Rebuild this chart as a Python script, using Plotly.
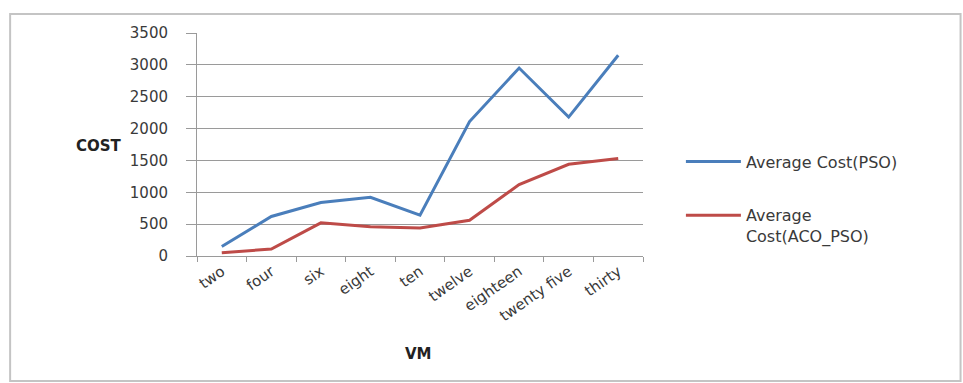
import plotly.graph_objects as go

# Number of virtual machines per run
vm_labels = ["two", "four", "six", "eight", "ten", "twelve", "eighteen", "twenty five", "thirty"]

# Average cost per algorithm
cost_pso = [150, 620, 840, 920, 640, 2110, 2950, 2180, 3150]
cost_aco_pso = [50, 110, 520, 460, 440, 560, 1120, 1440, 1530]

series_names = ["Average Cost(PSO)", "Average<br>Cost(ACO_PSO)"]
y_ticks = [0, 500, 1000, 1500, 2000, 2500, 3000, 3500]

FONT = "DejaVu Sans"
GRID = "#9a9a9a"
TEXT = "#3a3a3a"

fig = go.Figure()
fig.add_trace(go.Scatter(x=vm_labels, y=cost_pso, mode="lines", name=series_names[0],
                         legendgroup="pso", line=dict(color="#4a7ebb", width=3)))
fig.add_trace(go.Scatter(x=vm_labels, y=cost_aco_pso, mode="lines", name=series_names[1],
                         legendgroup="aco", line=dict(color="#be4b48", width=3)))

fig.update_layout(
    width=963, height=383,
    margin=dict(l=197, r=320, t=33, b=127),
    paper_bgcolor="white", plot_bgcolor="white",
    font=dict(family=FONT, size=15, color=TEXT),
    showlegend=True,
    legend=dict(x=1.085, y=0.50, xanchor="left", yanchor="top",
                font=dict(family=FONT, size=16, color=TEXT),
                valign="top", itemwidth=55, tracegroupgap=30,
                bgcolor="rgba(0,0,0,0)"),
    xaxis=dict(
        type="category", tickangle=-35, tickson="boundaries",
        ticks="outside", ticklen=5, tickcolor=GRID,
        showline=True, linecolor=GRID, linewidth=1,
        showgrid=False, tickfont=dict(family=FONT, size=15, color=TEXT),
        range=[-0.5, len(vm_labels) - 0.5],
    ),
    yaxis=dict(
        range=[0, 3500], tickvals=y_ticks, ticktext=[str(v) for v in y_ticks],
        ticks="outside", ticklen=10, tickcolor=GRID,
        showline=True, linecolor=GRID, linewidth=1,
        showgrid=True, gridcolor=GRID, gridwidth=1,
        zeroline=False, ticklabelstandoff=15,
        tickfont=dict(family=FONT, size=15, color=TEXT),
    ),
    annotations=[
        dict(text="<b>COST</b>", xref="paper", yref="paper", x=-0.276, y=0.493,
             showarrow=False, font=dict(family=FONT, size=15, color="#222222")),
        dict(text="<b>VM</b>", xref="paper", yref="paper", x=0.496, y=-0.49,
             showarrow=False, font=dict(family=FONT, size=15, color="#222222")),
    ],
    shapes=[
        dict(type="rect", xref="paper", yref="paper",
             x0=-0.419, x1=1.712, y0=-0.56, y1=1.085,
             line=dict(color="#c4c4c4", width=2), layer="below"),
    ],
)

fig.write_html("out.html")
